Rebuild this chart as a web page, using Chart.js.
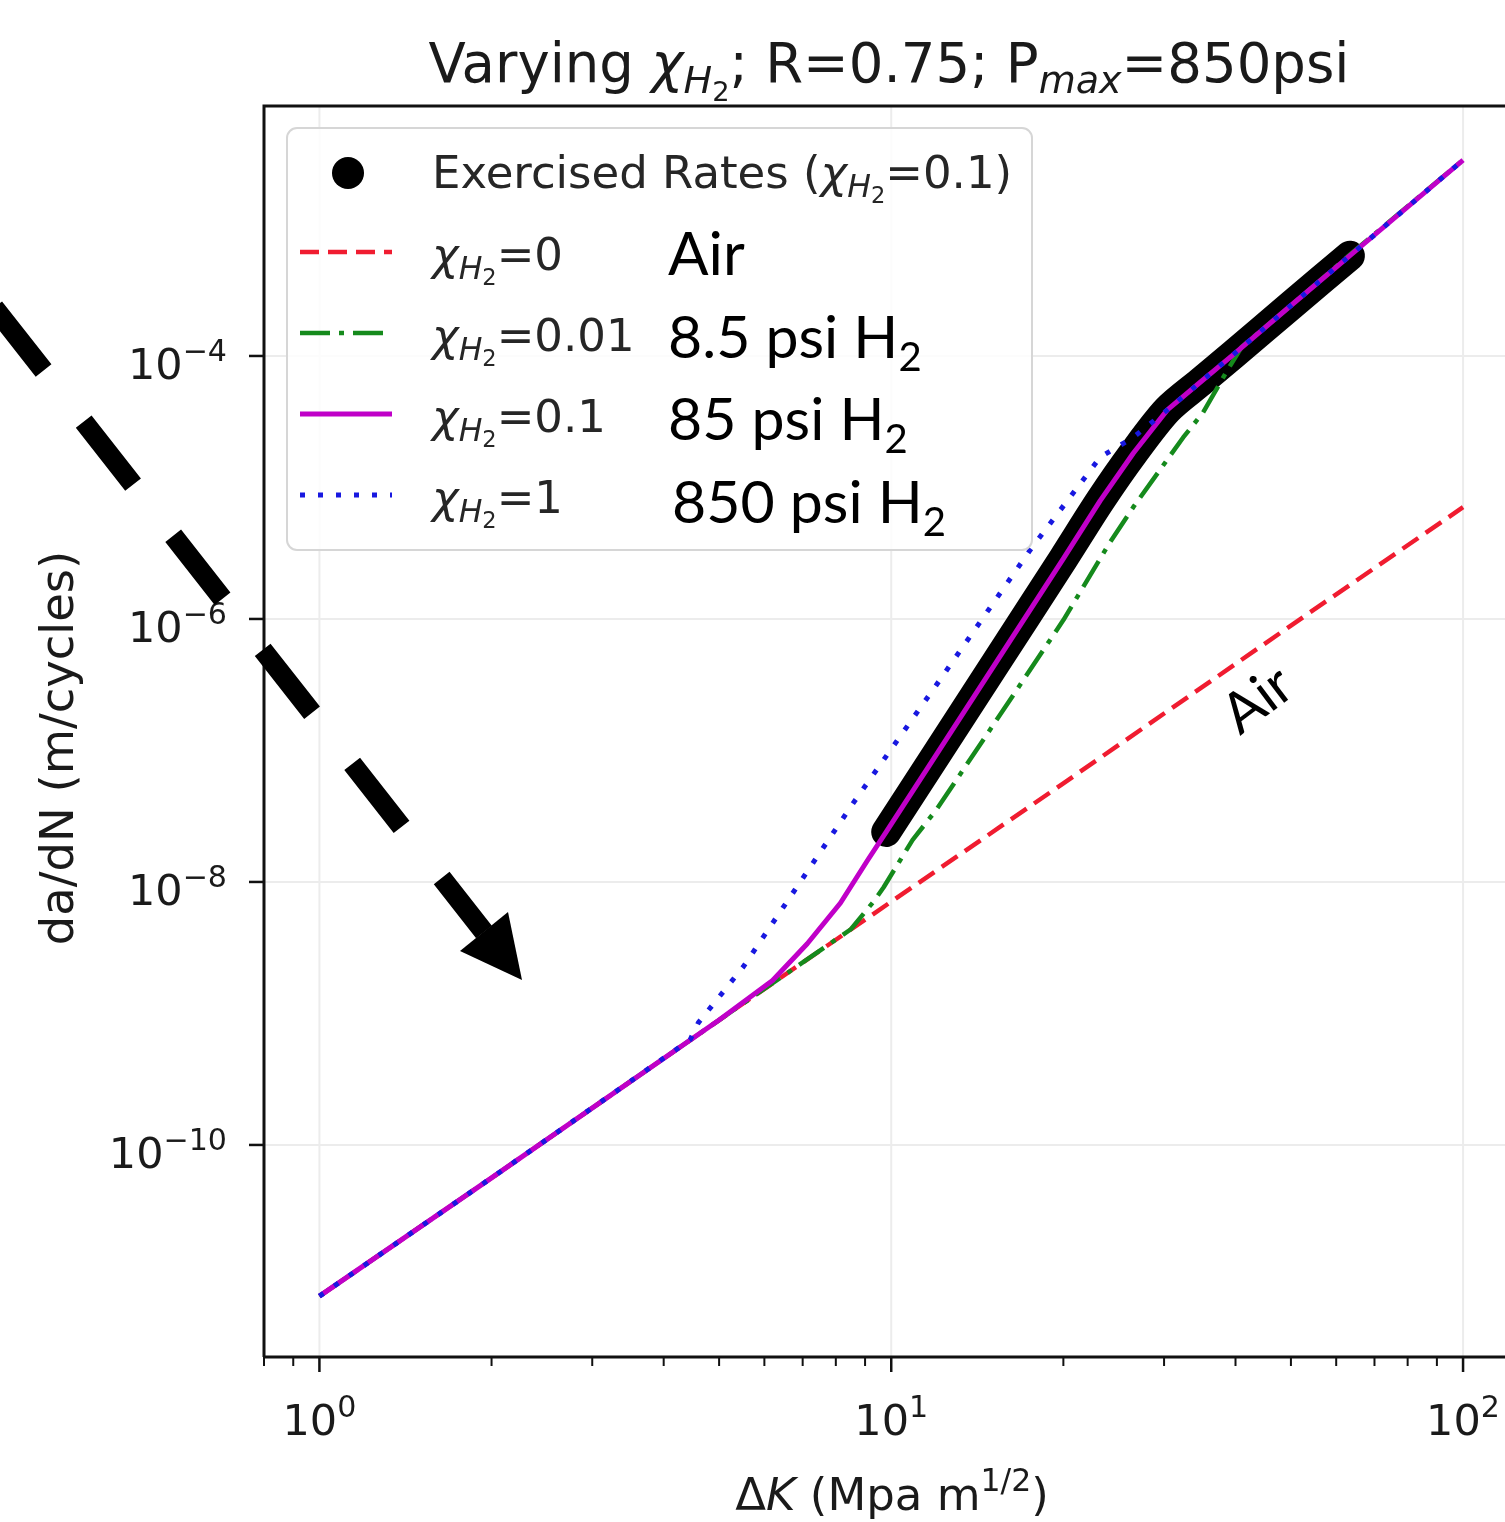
<!DOCTYPE html>
<html>
<head>
<meta charset="utf-8">
<script src="https://cdn.jsdelivr.net/npm/chart.js@4.4.1/dist/chart.umd.min.js"></script>
<style>
    html, body { margin: 0; padding: 0; background: #fff; overflow: hidden; }
    canvas { display: block; }
</style>
</head>
<body>
<canvas id="crackChart" width="1505" height="1522"></canvas>
<script>
// Air curve (chi_H2 = 0)
const airK = [1, 2, 5, 10, 20, 50, 100];
const airRate = [7.08e-12, 5.62e-11, 8.91e-10, 7.08e-9, 5.62e-8, 8.91e-7, 7.08e-6];

// chi_H2 = 0.01
const lowK = [1, 2, 5, 8.5, 9.35, 9.7, 10.9, 12, 15, 20, 24.1, 26.5, 32.4, 35.1, 38.7, 41, 50, 63, 100];
const lowRate = [7.08e-12, 5.62e-11, 8.91e-10, 4.37e-9, 7.24e-9, 9.12e-9, 2.09e-8, 3.55e-8, 1.51e-7, 9.8e-7,
    3.8e-6, 7.08e-6, 2.4e-5, 3.72e-5, 7.76e-5, 1.17e-4, 2.42e-4, 5.75e-4, 3.09e-3];

// chi_H2 = 0.1
const midK = [1, 2, 5, 6.2, 7.13, 8.15, 9.08, 9.8, 12, 15, 20, 23.2, 26.5, 30.4, 34.7, 39.6, 50, 63.4, 100];
const midRate = [7.08e-12, 5.62e-11, 8.91e-10, 1.78e-9, 3.39e-9, 6.92e-9, 1.45e-8, 2.4e-8, 9.33e-8, 4.17e-7,
    2.88e-6, 7.94e-6, 1.82e-5, 3.89e-5, 6.31e-5, 1.02e-4, 2.42e-4, 5.79e-4, 3.09e-3];

// chi_H2 = 1
const fullK = [1, 2, 4.45, 4.6, 5.51, 8.58, 12, 17.5, 23.2, 26.5, 30.4, 34.7, 39.6, 50, 63.4, 100];
const fullRate = [7.08e-12, 5.62e-11, 6.31e-10, 8.51e-10, 2.26e-9, 3.98e-8, 3.16e-7, 3.35e-6, 1.7e-5, 2.4e-5,
    3.89e-5, 6.31e-5, 1.02e-4, 2.42e-4, 5.79e-4, 3.09e-3];

// Exercised rates (chi_H2 = 0.1)
const exK = [9.8, 12, 15, 20, 23.2, 26.5, 30.4, 34.7, 39.6, 50, 63.4];
const exRate = [2.4e-8, 9.33e-8, 4.17e-7, 2.88e-6, 7.94e-6, 1.82e-5, 3.89e-5, 6.31e-5, 1.02e-4, 2.42e-4, 5.79e-4];

// Ticks
const xMajor = [1, 10, 100];
const xMajorExp = ['0', '1', '2'];
const xMinor = [0.8, 0.9, 2, 3, 4, 5, 6, 7, 8, 9, 20, 30, 40, 50, 60, 70, 80, 90];
const yMajor = [1e-4, 1e-6, 1e-8, 1e-10];
const yMajorExp = ['\u22124', '\u22126', '\u22128', '\u221210'];

// Line styles
const styles = {
    air: { color: '#f01c30', dash: [19, 9], width: 4.5 },
    low: { color: '#158a1c', dash: [30, 9, 5, 9], width: 4.5 },
    mid: { color: '#c000c8', dash: [], width: 5 },
    full: { color: '#1818e0', dash: [5, 13], width: 5 }
};

function toPoints(xs, ys) {
    return xs.map((x, i) => ({ x: x, y: ys[i] }));
}

// Draws mixed text runs (italic, sub, sup) on one baseline
function drawRich(ctx, runs, x, y, size, align, family) {
    family = family || '"DejaVu Sans"';
    let total = 0;
    const items = runs.map(function(r) {
        const lvl = r.lvl || 0;
        let scale = 1, dy = 0;
        if (lvl === 1) { scale = 0.7; dy = 0.2 * size; }
        if (lvl === 2) { scale = 0.5; dy = 0.34 * size; }
        if (lvl === -1) { scale = 0.7; dy = -0.42 * size; }
        if (r.scale) scale = r.scale;
        if (r.dy !== undefined) dy = r.dy * size;
        const font = (r.it ? 'italic ' : '') + (size * scale).toFixed(1) + 'px ' + (r.fam || family);
        ctx.font = font;
        const w = ctx.measureText(r.t).width;
        total += w;
        return { t: r.t, font: font, w: w, dy: dy };
    });
    let cx = x;
    if (align === 'center') cx = x - total / 2;
    if (align === 'right') cx = x - total;
    ctx.textAlign = 'left';
    ctx.textBaseline = 'alphabetic';
    items.forEach(function(it) {
        ctx.font = it.font;
        ctx.fillText(it.t, cx, y + it.dy);
        cx += it.w;
    });
    return total;
}

function chiRuns(rest) {
    return [{ t: '\u03c7', it: true }, { t: 'H', it: true, lvl: 1 }, { t: '2', lvl: 2 }, { t: rest }];
}

function strokeLine(ctx, x1, y1, x2, y2) {
    ctx.beginPath();
    ctx.moveTo(x1, y1);
    ctx.lineTo(x2, y2);
    ctx.stroke();
}

const decorPlugin = {
    id: 'decor',
    beforeDatasetsDraw(chart) {
        const ctx = chart.ctx, a = chart.chartArea, xs = chart.scales.x, ys = chart.scales.y;
        ctx.save();
        ctx.strokeStyle = '#ececec';
        ctx.lineWidth = 2;
        xMajor.forEach(v => { const px = xs.getPixelForValue(v); strokeLine(ctx, px, a.top, px, a.bottom); });
        yMajor.forEach(v => { const py = ys.getPixelForValue(v); strokeLine(ctx, a.left, py, a.right, py); });
        ctx.restore();
    },
    afterDatasetsDraw(chart) {
        const ctx = chart.ctx, a = chart.chartArea, xs = chart.scales.x, ys = chart.scales.y;
        ctx.save();

        // Frame
        ctx.strokeStyle = '#111';
        ctx.lineWidth = 3;
        ctx.beginPath();
        ctx.moveTo(a.left, a.bottom);
        ctx.lineTo(a.left, a.top);
        ctx.lineTo(a.right, a.top);
        ctx.moveTo(a.left, a.bottom);
        ctx.lineTo(a.right, a.bottom);
        ctx.stroke();

        // Ticks and tick labels
        ctx.lineWidth = 2.5;
        ctx.fillStyle = '#1a1a1a';
        xMajor.forEach((v, i) => {
            const px = xs.getPixelForValue(v);
            strokeLine(ctx, px, a.bottom, px, a.bottom + 15);
            drawRich(ctx, [{ t: '10' }, { t: xMajorExp[i], lvl: -1 }], px, 1435, 43, 'center');
        });
        ctx.lineWidth = 2;
        xMinor.forEach(v => {
            const px = xs.getPixelForValue(v);
            strokeLine(ctx, px, a.bottom, px, a.bottom + 9);
        });
        ctx.lineWidth = 2.5;
        yMajor.forEach((v, i) => {
            const py = ys.getPixelForValue(v);
            strokeLine(ctx, a.left - 15, py, a.left, py);
            drawRich(ctx, [{ t: '10' }, { t: yMajorExp[i], lvl: -1 }], 227, py + 23, 43, 'right');
        });

        // Axis titles
        drawRich(ctx, [{ t: '\u0394' }, { t: 'K', it: true }, { t: ' (Mpa m' }, { t: '1/2', lvl: -1 }, { t: ')' }],
            (a.left + 1520) / 2, 1510, 45, 'center');
        ctx.save();
        ctx.translate(73, 748);
        ctx.rotate(-Math.PI / 2);
        drawRich(ctx, [{ t: 'da/dN (m/cycles)' }], 0, 0, 46.5, 'center');
        ctx.restore();

        // Title
        drawRich(ctx, [{ t: 'Varying ' }, { t: '\u03c7', it: true }, { t: 'H', it: true, lvl: 1 }, { t: '2', lvl: 2 },
            { t: '; R=0.75; P' }, { t: 'max', it: true, lvl: 1 }, { t: '=850psi' }],
            889, 82, 54.5, 'center');

        // Legend box
        ctx.fillStyle = 'rgba(255,255,255,0.85)';
        ctx.strokeStyle = '#d6d6d6';
        ctx.lineWidth = 2;
        ctx.beginPath();
        ctx.roundRect(287, 128, 745, 422, 10);
        ctx.fill();
        ctx.stroke();

        ctx.fillStyle = '#000';
        ctx.beginPath();
        ctx.arc(348, 173, 16, 0, Math.PI * 2);
        ctx.fill();

        const legendRows = [
            { s: styles.air, y: 270, rest: '=0' },
            { s: styles.low, y: 351, rest: '=0.01' },
            { s: styles.mid, y: 432, rest: '=0.1' },
            { s: styles.full, y: 513, rest: '=1' }
        ];
        legendRows.forEach(row => {
            ctx.strokeStyle = row.s.color;
            ctx.lineWidth = row.s.width;
            ctx.setLineDash(row.s.dash);
            strokeLine(ctx, 300, row.y - 18, 392, row.y - 18);
        });
        ctx.setLineDash([]);
        ctx.fillStyle = '#262626';
        drawRich(ctx, [{ t: 'Exercised Rates (' }].concat(chiRuns('=0.1)')), 432, 188, 45, 'left');
        legendRows.forEach(row => drawRich(ctx, chiRuns(row.rest), 432, row.y, 45, 'left'));

        // Annotations
        ctx.fillStyle = '#000';
        const ann = 'Lato';
        drawRich(ctx, [{ t: 'Air' }], 668, 275, 60, 'left', ann);
        drawRich(ctx, [{ t: '8.5 psi H' }, { t: '2', scale: 0.68, dy: 0.22 }], 668, 358, 59, 'left', ann);
        drawRich(ctx, [{ t: '85 psi H' }, { t: '2', scale: 0.68, dy: 0.22 }], 668, 440, 59, 'left', ann);
        drawRich(ctx, [{ t: '850 psi H' }, { t: '2', scale: 0.68, dy: 0.22 }], 672, 523, 59, 'left', ann);

        ctx.save();
        ctx.translate(1240, 736);
        ctx.rotate(-37 * Math.PI / 180);
        drawRich(ctx, [{ t: 'Air' }], 0, 0, 56, 'left', ann);
        ctx.restore();

        // Dashed arrow
        ctx.strokeStyle = '#000';
        ctx.lineWidth = 20;
        ctx.setLineDash([80, 65]);
        ctx.lineDashOffset = 11.4;
        strokeLine(ctx, 484, 932, -40, 264);
        ctx.setLineDash([]);
        ctx.beginPath();
        ctx.moveTo(522, 980);
        ctx.lineTo(460, 951);
        ctx.lineTo(508, 912);
        ctx.closePath();
        ctx.fill();

        ctx.restore();
    }
};

function lineSet(label, xs, ys, s, order) {
    return {
        label: label,
        data: toPoints(xs, ys),
        borderColor: s.color,
        borderWidth: s.width,
        borderDash: s.dash,
        borderCapStyle: 'butt',
        borderJoinStyle: 'round',
        pointRadius: 0,
        tension: 0,
        fill: false,
        order: order
    };
}

let chartCtx = document.getElementById('crackChart').getContext('2d');
let crackChart = new Chart(chartCtx, {
    type: 'line',
    data: {
        datasets: [
            {
                label: 'Exercised Rates',
                data: toPoints(exK, exRate),
                borderColor: '#000',
                borderWidth: 30,
                borderCapStyle: 'round',
                borderJoinStyle: 'round',
                pointRadius: 0,
                tension: 0.3,
                fill: false,
                order: 5
            },
            lineSet('chi=0', airK, airRate, styles.air, 4),
            lineSet('chi=0.01', lowK, lowRate, styles.low, 3),
            lineSet('chi=0.1', midK, midRate, styles.mid, 2),
            lineSet('chi=1', fullK, fullRate, styles.full, 1)
        ]
    },
    options: {
        responsive: false,
        animation: false,
        events: [],
        layout: { padding: { top: 106, left: 0, right: 0, bottom: 0 } },
        plugins: {
            legend: { display: false },
            tooltip: { enabled: false },
            title: { display: false }
        },
        scales: {
            x: {
                type: 'logarithmic',
                min: 0.80,
                max: 118.4,
                ticks: { display: false },
                grid: { display: false },
                border: { display: false },
                afterFit: function(scale) { scale.height = 165; }
            },
            y: {
                type: 'logarithmic',
                min: 2.44e-12,
                max: 7.96e-3,
                ticks: { display: false },
                grid: { display: false },
                border: { display: false },
                afterFit: function(scale) { scale.width = 264; }
            }
        }
    },
    plugins: [decorPlugin]
});
</script>
</body>
</html>
